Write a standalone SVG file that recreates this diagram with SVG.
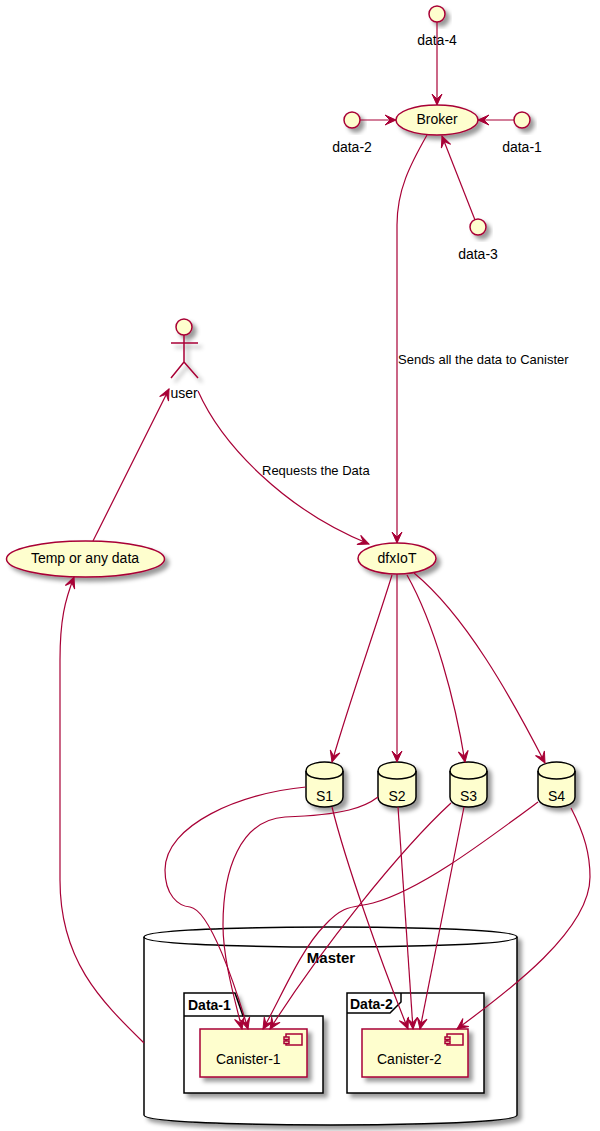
<svg xmlns="http://www.w3.org/2000/svg" width="600" height="1131" viewBox="0 0 600 1131">
<style>
text{font-family:"Liberation Sans",Arial,sans-serif;font-size:14px;fill:#000}
.c{text-anchor:middle}
.b{font-weight:bold}
.m{font-size:15px}
.e{font-size:13px}
.n{fill:#FEFECE;stroke:#A80036;stroke-width:1.5;filter:url(#s)}
.k{fill:#FEFECE;stroke:#000;stroke-width:1.5;filter:url(#s)}
.w{fill:#fff;stroke:#000;stroke-width:1.5;filter:url(#s)}
.l{fill:none;stroke:#000;stroke-width:1.5}
.i{fill:#FEFECE;stroke:#A80036;stroke-width:1.5}
#edges path{fill:none;stroke:#A80036;stroke-width:1.2;marker-end:url(#a)}
</style>
<defs>
<filter id="s" x="-30%" y="-30%" width="170%" height="170%"><feGaussianBlur in="SourceAlpha" stdDeviation="2"/><feColorMatrix type="matrix" values="0 0 0 0 0 0 0 0 0 0 0 0 0 0 0 0 0 0 .4 0"/><feOffset dx="4" dy="4" result="o"/><feMerge><feMergeNode in="o"/><feMergeNode in="SourceGraphic"/></feMerge></filter>
<marker id="a" markerUnits="userSpaceOnUse" markerWidth="14" markerHeight="14" viewBox="-13 -7 14 14" refX="0" refY="0" orient="auto"><path d="M0,0 L-11,-5 L-6,0 L-11,5 Z" fill="#A80036" stroke="#A80036" stroke-width="1"/></marker>
</defs>

<g id="master"><path class="w" d="M144,937 C144,927 330.5,927 330.5,927 C330.5,927 517,927 517,937 L517,1115 C517,1125 330.5,1125 330.5,1125 C330.5,1125 144,1125 144,1115 Z"/><path class="l" d="M144,937 C144,947 330.5,947 330.5,947 C330.5,947 517,947 517,937"/><text class="c b m" x="331" y="963">Master</text></g>
<g id="data-1-pkg"><path class="w" d="M184,993 L235,993 L243,1016 L323,1016 L323,1093 L184,1093 Z"/><path class="l" d="M184,1016 L243,1016"/><text class="b" x="188" y="1010">Data-1</text></g>
<g id="data-2-pkg"><rect class="w" x="347" y="993" width="137" height="100"/><path class="l" d="M347,1013 L390,1013 L401,1002 L401,993"/><text class="b" x="350" y="1009">Data-2</text></g>
<g id="canister-1"><rect class="n" x="200" y="1029" width="107" height="48"/><rect class="i" x="286" y="1034" width="16" height="11"/><rect class="i" x="284" y="1037" width="5" height="2.5"/><rect class="i" x="284" y="1041" width="5" height="2.5"/><text x="216" y="1064">Canister-1</text></g>
<g id="canister-2"><rect class="n" x="362" y="1029" width="106" height="48"/><rect class="i" x="447" y="1034" width="16" height="11"/><rect class="i" x="445" y="1037" width="5" height="2.5"/><rect class="i" x="445" y="1041" width="5" height="2.5"/><text x="377" y="1064">Canister-2</text></g>

<g id="data-4"><circle class="n" cx="437" cy="14" r="8"/><text class="c" x="437" y="45">data-4</text></g>
<g id="data-2"><circle class="n" cx="352" cy="120" r="8"/><text class="c" x="352" y="152">data-2</text></g>
<g id="data-1"><circle class="n" cx="522" cy="120" r="8"/><text class="c" x="522" y="152">data-1</text></g>
<g id="data-3"><circle class="n" cx="478" cy="227" r="8"/><text class="c" x="478" y="259">data-3</text></g>
<g id="broker"><ellipse class="n" cx="437" cy="120" rx="41" ry="15"/><text class="c" x="437" y="124">Broker</text></g>
<g id="user"><g filter="url(#s)"><circle cx="184" cy="327" r="8" fill="#FEFECE" stroke="#A80036" stroke-width="1.5"/><path d="M184,335 V362 M171,343 H198 M184,362 L171,378 M184,362 L198,378" fill="none" stroke="#A80036" stroke-width="1.5"/></g><text class="c" x="184" y="398">user</text></g>
<g id="temp"><ellipse class="n" cx="85.5" cy="559" rx="79" ry="18"/><text class="c" x="85" y="563">Temp or any data</text></g>
<g id="dfxiot"><ellipse class="n" cx="397" cy="558.5" rx="39" ry="15.5"/><text class="c" x="397" y="563">dfxIoT</text></g>
<g id="s1"><path class="k" d="M306,771 C306,762 324.5,762 324.5,762 C324.5,762 343,762 343,771 L343,797 C343,807 324.5,807 324.5,807 C324.5,807 306,807 306,797 Z"/><path class="l" d="M306,771 C306,779 324.5,779 324.5,779 C324.5,779 343,779 343,771"/><text class="c" x="324.5" y="801">S1</text></g>
<g id="s2"><path class="k" d="M378,771 C378,762 397,762 397,762 C397,762 416,762 416,771 L416,797 C416,807 397,807 397,807 C397,807 378,807 378,797 Z"/><path class="l" d="M378,771 C378,779 397,779 397,779 C397,779 416,779 416,771"/><text class="c" x="397" y="801">S2</text></g>
<g id="s3"><path class="k" d="M450,771 C450,762 468.5,762 468.5,762 C468.5,762 487,762 487,771 L487,797 C487,807 468.5,807 468.5,807 C468.5,807 450,807 450,797 Z"/><path class="l" d="M450,771 C450,779 468.5,779 468.5,779 C468.5,779 487,779 487,771"/><text class="c" x="468.5" y="801">S3</text></g>
<g id="s4"><path class="k" d="M538,771 C538,762 556.5,762 556.5,762 C556.5,762 575,762 575,771 L575,797 C575,807 556.5,807 556.5,807 C556.5,807 538,807 538,797 Z"/><path class="l" d="M538,771 C538,779 556.5,779 556.5,779 C556.5,779 575,779 575,771"/><text class="c" x="556.5" y="801">S4</text></g>

<g id="edges">
<path d="M437,22 L437,105"/>
<path d="M360,120 L396,120"/>
<path d="M514,120 L478,120"/>
<path d="M475,220 L442,136"/>
<path d="M427,135 C410,165 397,190 397,225 L397,543"/>
<path d="M198,391 C222,445 285,510 369,544"/>
<path d="M93,541 L169,389"/>
<path d="M144,1043 C100,1000 60,960 60,880 L60,660 C60,620 65,600 74,577"/>
<path d="M392,575 C375,630 350,700 332,762"/>
<path d="M397,574 L397,762"/>
<path d="M407,575 C435,625 455,700 465,762"/>
<path d="M414,573 C465,615 510,695 545,763"/>
<path d="M306,787 C240,793 165,825 165,870 C165,895 178,906 190,907 C210,910 235,985 248,1029"/>
<path d="M378,797 C365,807 345,815 285,817 C240,820 223,870 223,925 C223,960 235,1000 242,1029"/>
<path d="M451,803 C400,850 320,950 270,1029"/>
<path d="M538,802 C480,845 420,890 373,903 C355,908 345,903 325,925 C300,950 280,1000 263,1029"/>
<path d="M332,807 C345,860 380,960 408,1029"/>
<path d="M398,807 L413,1029"/>
<path d="M464,807 L420,1029"/>
<path d="M571,808 C585,835 590,855 590,877 C590,930 510,990 457,1029"/>
<text class="e" x="398" y="364">Sends all the data to Canister</text>
<text class="e" x="262" y="475">Requests the Data</text>
</g>
</svg>
